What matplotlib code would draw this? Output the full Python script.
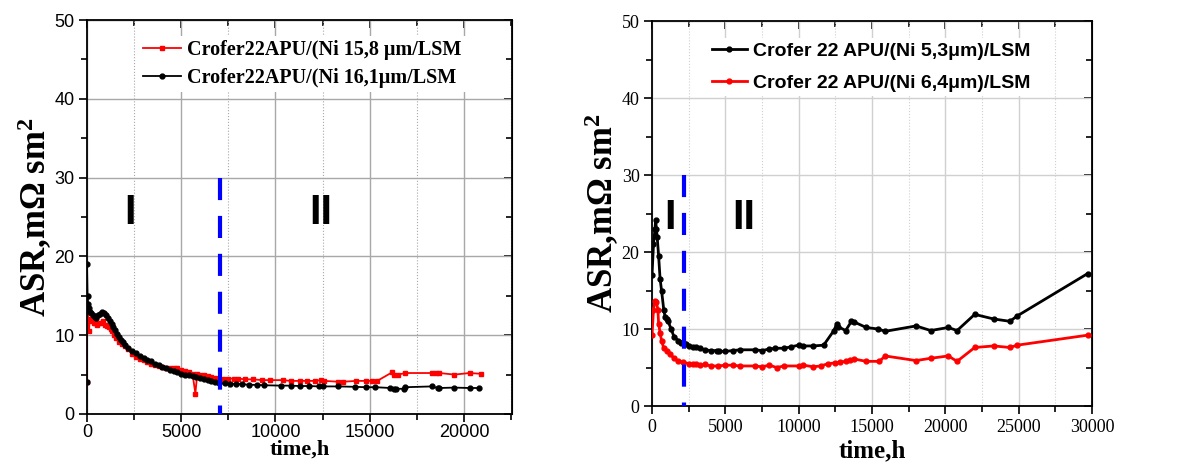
import matplotlib
matplotlib.use('Agg')
import matplotlib.pyplot as plt
from matplotlib import font_manager
from matplotlib.ticker import MultipleLocator

plt.rcParams['mathtext.fontset'] = 'custom'
plt.rcParams['mathtext.rm'] = 'Liberation Serif:bold'
plt.rcParams['mathtext.it'] = 'Liberation Serif:bold'
plt.rcParams['mathtext.bf'] = 'Liberation Serif:bold'

# left panel data
left_black_t = [0, 0, 30, 60, 100, 150, 200, 300, 400, 500,
                600, 700, 800, 900, 1000, 1100, 1200, 1300, 1400, 1500,
                1600, 1700, 1800, 1900, 2000, 2200, 2400, 2600, 2800, 3000,
                3200, 3400, 3600, 3800, 4000, 4200, 4400, 4600, 4800, 5000,
                5200, 5400, 5600, 5800, 6000, 6200, 6400, 6600, 6800, 7000,
                7300, 7600, 7900, 8200, 8600, 9000, 9400, 10300, 10800, 11300,
                11800, 12300, 12500, 13300, 14200, 14800, 15300, 16100, 16300, 16400,
                16800, 16900, 18300, 18600, 18700, 19500, 20300, 20800]
left_black_asr = [4, 19, 15, 14, 13.5, 13, 12.8, 12.5, 12.3, 12.2,
                  12.5, 12.7, 12.9, 12.8, 12.5, 12.2, 11.8, 11.4, 11, 10.6,
                  10.2, 9.8, 9.4, 9.1, 8.8, 8.4, 8.0, 7.7, 7.4, 7.1,
                  6.9, 6.7, 6.4, 6.2, 6.0, 5.8, 5.6, 5.4, 5.3, 5.1,
                  5.0, 4.9, 4.8, 4.7, 4.6, 4.5, 4.3, 4.2, 4.1, 3.9,
                  3.9, 3.85, 3.8, 3.8, 3.7, 3.7, 3.65, 3.6, 3.6, 3.55,
                  3.55, 3.5, 3.5, 3.5, 3.45, 3.4, 3.4, 3.3, 3.2, 3.2,
                  3.2, 3.4, 3.5, 3.3, 3.3, 3.35, 3.3, 3.3]
left_red_t = [0, 0, 50, 100, 150, 250, 350, 450, 550, 650,
              750, 850, 950, 1050, 1150, 1250, 1350, 1450, 1550, 1700,
              1850, 2000, 2200, 2400, 2600, 2800, 3000, 3200, 3400, 3600,
              3800, 4000, 4200, 4400, 4600, 4800, 5000, 5200, 5400, 5600,
              5750, 5850, 6000, 6200, 6400, 6600, 6800, 7000, 7200, 7500,
              7800, 8000, 8400, 8800, 9300, 9700, 10400, 10800, 11300, 11700,
              12100, 12400, 12600, 13300, 13600, 14300, 14800, 15100, 15400, 16200,
              16300, 16500, 16900, 18300, 18500, 18700, 19500, 20300, 20900]
left_red_asr = [4, 15, 13, 10.5, 12, 11.8, 11.5, 11.6, 11.3, 11.5,
                11.6, 11.8, 11.3, 11.2, 11, 10.8, 10.5, 10, 9.6, 9.2,
                8.9, 8.6, 8.2, 7.6, 7.2, 7.0, 6.8, 6.6, 6.4, 6.2,
                6.1, 6.0, 5.9, 5.8, 5.9, 5.8, 5.6, 5.4, 5.3, 5.1,
                2.6, 5.1, 5.0, 4.9, 4.8, 4.7, 4.6, 4.5, 4.5, 4.5,
                4.5, 4.5, 4.4, 4.4, 4.3, 4.3, 4.3, 4.2, 4.2, 4.2,
                4.2, 4.3, 4.2, 4.1, 4.1, 4.2, 4.2, 4.2, 4.2, 5.3,
                4.9, 5.0, 5.2, 5.2, 5.2, 5.2, 5.0, 5.2, 5.1]

# right panel data
right_black_t = [0, 100, 200, 250, 300, 350, 450, 550, 650, 800,
                 900, 1000, 1100, 1300, 1500, 1800, 2000, 2100, 2300, 2500,
                 2800, 3000, 3300, 3600, 4000, 4400, 4600, 5000, 5500, 6000,
                 7000, 7500, 8000, 8400, 9000, 9500, 10000, 10300, 11000, 11700,
                 12400, 12600, 12700, 13200, 13600, 13800, 14600, 15400, 15900, 18000,
                 19000, 20200, 20800, 22000, 23300, 24400, 24900, 29700]
right_black_asr = [17, 21, 23, 24.1, 23, 22, 19.5, 16.5, 15, 12.5,
                   11.5, 11.3, 11, 10, 9, 8.5, 8.2, 8.3, 8, 7.8,
                   7.6, 7.6, 7.5, 7.3, 7.2, 7.2, 7.1, 7.1, 7.2, 7.3,
                   7.3, 7.2, 7.4, 7.5, 7.5, 7.7, 7.9, 7.8, 7.8, 7.9,
                   9.8, 10.7, 10.3, 9.8, 11.0, 10.9, 10.2, 10.0, 9.7, 10.4,
                   9.8, 10.2, 9.8, 11.9, 11.3, 11.0, 11.7, 17.2]
right_red_t = [0, 100, 200, 300, 400, 450, 550, 650, 800, 1000,
               1200, 1500, 1800, 2100, 2500, 2800, 3000, 3300, 3600, 4000,
               4500, 5000, 5500, 6000, 7000, 7500, 8000, 8500, 9000, 10000,
               10300, 11000, 11500, 12000, 12500, 12800, 13200, 13500, 13800, 14600,
               15500, 15900, 18000, 19000, 20200, 20800, 22000, 23300, 24400, 24900, 29700]
right_red_asr = [9.2, 12.5, 13.7, 13.5, 12.5, 10.7, 9.5, 8.5, 7.5, 7.2,
                 6.8, 6.2, 5.8, 5.7, 5.5, 5.4, 5.4, 5.3, 5.4, 5.2,
                 5.2, 5.3, 5.3, 5.2, 5.2, 5.1, 5.3, 5.0, 5.2, 5.2,
                 5.3, 5.1, 5.2, 5.5, 5.6, 5.7, 5.8, 6.0, 6.1, 5.8,
                 5.8, 6.5, 5.9, 6.2, 6.5, 5.8, 7.6, 7.8, 7.6, 7.9, 9.2]

left_labels = ['Crofer22APU/(Ni 15,8 μm/LSM', 'Crofer22APU/(Ni 16,1μm/LSM']
right_labels = ['Crofer 22 APU/(Ni 5,3μm)/LSM', 'Crofer 22 APU/(Ni 6,4μm)/LSM']
stage_split = [7050, 2200]

serif = 'Liberation Serif'
sans = 'Liberation Sans'
installed = {f.name for f in font_manager.fontManager.ttflist}
if 'Liberation Sans Narrow' in installed:
    narrow, narrow_size = 'Liberation Sans Narrow', 17
else:
    narrow, narrow_size = sans, 14

fig = plt.figure(figsize=(11.87, 4.62), dpi=100)
ax1 = fig.add_axes([0.0733, 0.1039, 0.358, 0.8528])
ax2 = fig.add_axes([0.5493, 0.1212, 0.3707, 0.8333])


def style_axes(ax, xmax, tickfont, gridcol, xpad, xsize, tpad):
    ax.set_xlim(0, xmax)
    ax.set_ylim(0, 50)
    ax.xaxis.set_major_locator(MultipleLocator(5000))
    ax.xaxis.set_minor_locator(MultipleLocator(2500))
    ax.yaxis.set_major_locator(MultipleLocator(10))
    ax.yaxis.set_minor_locator(MultipleLocator(5))
    ax.grid(which='major', color=gridcol, lw=1.0, ls='-', zorder=0)
    ax.grid(which='minor', axis='x', color=gridcol, lw=0.8, ls=':', zorder=0)
    ax.tick_params(which='both', direction='out', width=1.2)
    ax.tick_params(which='major', length=6, labelsize=13, pad=3)
    ax.tick_params(axis='x', which='major', pad=tpad)
    ax.tick_params(which='minor', length=4)
    for lab in ax.get_xticklabels() + ax.get_yticklabels():
        lab.set_fontfamily(tickfont)
    for s in ax.spines.values():
        s.set_linewidth(1.3)
    ax.set_axisbelow(True)
    # inward ticks on top and right
    top = ax.secondary_xaxis('top')
    right = ax.secondary_yaxis('right')
    for sec in (top, right):
        sec.tick_params(which='both', direction='in', width=1.2, labelleft=False,
                        labelright=False, labeltop=False, labelbottom=False)
        sec.tick_params(which='major', length=6)
        sec.tick_params(which='minor', length=4)
    top.xaxis.set_major_locator(MultipleLocator(5000))
    top.xaxis.set_minor_locator(MultipleLocator(2500))
    right.yaxis.set_major_locator(MultipleLocator(10))
    right.yaxis.set_minor_locator(MultipleLocator(5))
    ax.set_ylabel('ASR,mΩ sm$^{2}$', fontsize=25, fontweight='bold', family=serif, labelpad=0)
    ax.set_xlabel('time,h', fontsize=xsize, fontweight='bold', family=serif, labelpad=xpad)


# left panel
style_axes(ax1, 22550, sans, '#a8a8a8', -1, 16, 1)
ax1.plot(left_red_t, left_red_asr, color='red', marker='s', ms=3.5, lw=1.3, label=left_labels[0], zorder=3)
ax1.plot(left_black_t, left_black_asr, color='black', marker='o', ms=3.5, lw=1.3, label=left_labels[1], zorder=4)
ax1.plot([stage_split[0], stage_split[0]], [30, 0], color='blue', ls=(0, (5.3, 3.8)), lw=3, zorder=5)
ax1.text(2300, 25.5, 'I', fontsize=30, fontweight='bold', family=sans, ha='center', va='center')
ax1.text(12400, 25.5, 'II', fontsize=30, fontweight='bold', family=sans, ha='center', va='center')
ax1.legend(loc='upper left', bbox_to_anchor=(0.122, 0.96), borderaxespad=0, frameon=True,
           fancybox=False, edgecolor='none', facecolor='white', framealpha=1, handlelength=1.9,
           handletextpad=0.3, borderpad=0.2, labelspacing=0.4,
           prop={'family': serif, 'weight': 'bold', 'size': 14.5})

# right panel
style_axes(ax2, 30000, serif, '#d0d0d0', 3, 18, 3)
ax2.plot(right_black_t, right_black_asr, color='black', marker='o', ms=3.5, lw=2, label=right_labels[0], zorder=4)
ax2.plot(right_red_t, right_red_asr, color='red', marker='o', ms=3.5, lw=2, label=right_labels[1], zorder=3)
ax2.plot([stage_split[1], stage_split[1]], [30, 0], color='blue', ls=(0, (5.3, 3.8)), lw=3, zorder=5)
ax2.text(1230, 24.4, 'I', fontsize=30, fontweight='bold', family=sans, ha='center', va='center')
ax2.text(6270, 24.4, 'II', fontsize=30, fontweight='bold', family=sans, ha='center', va='center')
ax2.legend(loc='upper left', bbox_to_anchor=(0.127, 0.955), borderaxespad=0, frameon=True,
           fancybox=False, edgecolor='none', facecolor='white', framealpha=1, handlelength=1.8,
           handletextpad=0.3, borderpad=0.2, labelspacing=0.75,
           prop={'family': narrow, 'weight': 'bold', 'size': narrow_size})

fig.savefig('out.png', dpi=100)
